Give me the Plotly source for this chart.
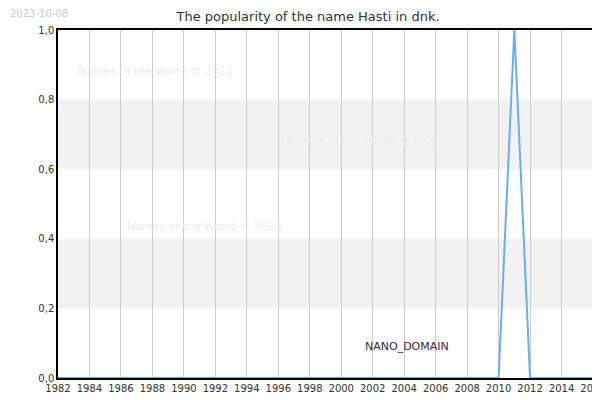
import plotly.graph_objs as go

# Data
years = list(range(1982, 2017))
popularity = [1.0 if y == 2011 else 0.0 for y in years]
x_ticks = list(range(1982, 2017, 2))
y_ticks = [0.0, 0.2, 0.4, 0.6, 0.8, 1.0]
bands = [(0.2, 0.4), (0.6, 0.8)]
watermarks = [(1988.2, 0.88), (2001.4, 0.68), (1991.3, 0.435)]

data = [go.Scatter(x=years, y=popularity, mode='lines',
                   line=dict(color='#6aaef0', width=2), hoverinfo='x+y')]

layout = go.Layout(
    width=600, height=400,
    margin=dict(l=50, r=15, t=22, b=30),
    plot_bgcolor='white', paper_bgcolor='white',
    font=dict(family='DejaVu Sans', size=10, color='#333'),
    separators=',.',
    title=dict(text='The popularity of the name Hasti in dnk.', x=0.5, y=0.99,
               xanchor='center', yanchor='top', font=dict(size=13, color='#333')),
    xaxis=dict(range=[1982, 2016], tickvals=x_ticks, showgrid=True, gridcolor='#cccccc',
               showline=True, linecolor='black', linewidth=1.5, mirror=True,
               zeroline=False, automargin=False),
    yaxis=dict(range=[0, 1], tickvals=y_ticks, tickformat='.1f', showgrid=False,
               showline=True, linecolor='black', linewidth=1.5, mirror=True,
               zeroline=False, automargin=False),
    showlegend=False,
)

fig = go.Figure(data=data, layout=layout)
for lo, hi in bands:
    fig.add_hrect(y0=lo, y1=hi, fillcolor='#f2f2f2', line_width=0, layer='below')
for wx, wy in watermarks:
    fig.add_annotation(x=wx, y=wy, text='Names of the World © 2023', showarrow=False,
                       font=dict(size=11, color='#ececf8'))
fig.add_annotation(x=2004.2, y=0.09, text='NANO_DOMAIN', showarrow=False,
                   font=dict(size=11, color='#3a1f3a'))
fig.add_annotation(xref='paper', yref='paper', x=-0.094, y=1.07, xanchor='left',
                   text='2023-10-08', showarrow=False, font=dict(size=10, color='#cccccc'))
fig.write_html('out.html')
